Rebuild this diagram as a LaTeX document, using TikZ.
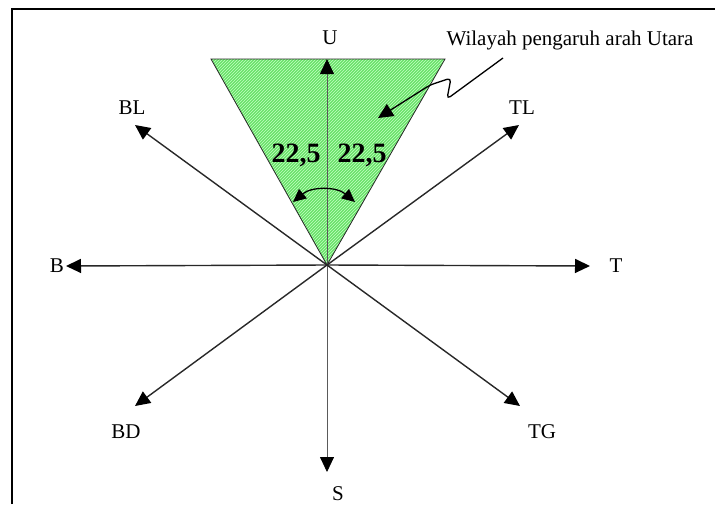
\documentclass[tikz,border=0pt]{standalone}
\usepackage{fontspec}
\setmainfont{Liberation Serif}
\usetikzlibrary{arrows.meta,patterns}
\definecolor{zonegreen}{RGB}{105,225,105}
\definecolor{hatchgreen}{RGB}{195,255,195}
\definecolor{axisgray}{RGB}{40,40,40}
\definecolor{thingray}{RGB}{90,90,90}
\begin{document}
\begin{tikzpicture}[x=1pt,y=-1pt,
  tip/.style={-{Triangle[length=15pt,width=14pt,black]}},
  axis/.style={tip,draw=axisgray,line width=1.4pt},
  thinaxis/.style={tip,draw=thingray,line width=0.8pt},
  lbl/.style={font=\fontsize{21}{23}\selectfont,inner sep=0pt},
  anglbl/.style={font=\fontsize{28}{30}\selectfont\bfseries,inner sep=0pt}]
\useasboundingbox (0,0) rectangle (715,504);
% frame
\draw[line width=2pt] (12,504) -- (12,9) -- (715,9);
% zone
\coordinate (O) at (327,265);
\coordinate (TLc) at (211,59);
\coordinate (TRc) at (445,59);
\fill[zonegreen] (O) -- (TLc) -- (TRc) -- cycle;
\fill[pattern=north east lines,pattern color=hatchgreen] (O) -- (TLc) -- (TRc) -- cycle;
\draw[axisgray,line width=0.8pt] (O) -- (TLc) -- (TRc) -- cycle;
% tips
\coordinate (pU) at (327,59);
\coordinate (pS) at (327,472);
\coordinate (pB) at (66,266);
\coordinate (pT) at (590,266);
\coordinate (pBL) at (135,125);
\coordinate (pTL) at (519,125);
\coordinate (pBD) at (135,406);
\coordinate (pTG) at (520,406);
\draw[thinaxis] (O) -- (pU);
\draw[thinaxis] (O) -- (pS);
\draw[axis] (O) -- (pB);
\draw[axis] (O) -- (pT);
\draw[axis] (O) -- (pBL);
\draw[axis] (O) -- (pTL);
\draw[axis] (O) -- (pBD);
\draw[axis] (O) -- (pTG);
% labels
\node[lbl] (U) at (330,38) {U};
\node[lbl] (S) at (338,494) {S};
\node[lbl] (B) at (57,266) {B};
\node[lbl] (T) at (616,266) {T};
\node[lbl] (BL) at (132,108) {BL};
\node[lbl] (TL) at (522,108) {TL};
\node[lbl] (BD) at (126,432) {BD};
\node[lbl] (TG) at (542,432) {TG};
\node[lbl] (note) at (570,40) {Wilayah pengaruh arah Utara};
% angle
\node[anglbl] (a1) at (296,155) {22,5};
\node[anglbl] (a2) at (362,155) {22,5};
\coordinate (arcL) at (293,202);
\coordinate (arcR) at (355,202);
\draw[{Triangle[length=13pt,width=12pt]}-{Triangle[length=13pt,width=12pt]},line width=1.3pt,black] (arcL) to[bend left=40] (arcR);
% leader
\coordinate (ld0) at (503,58);
\coordinate (ldtip) at (378,118);
\draw[tip,black,line width=1.3pt,rounded corners=4pt] (ld0) -- (447,99) -- (451,78) -- (430,85) -- (ldtip);
\end{tikzpicture}
\end{document}
